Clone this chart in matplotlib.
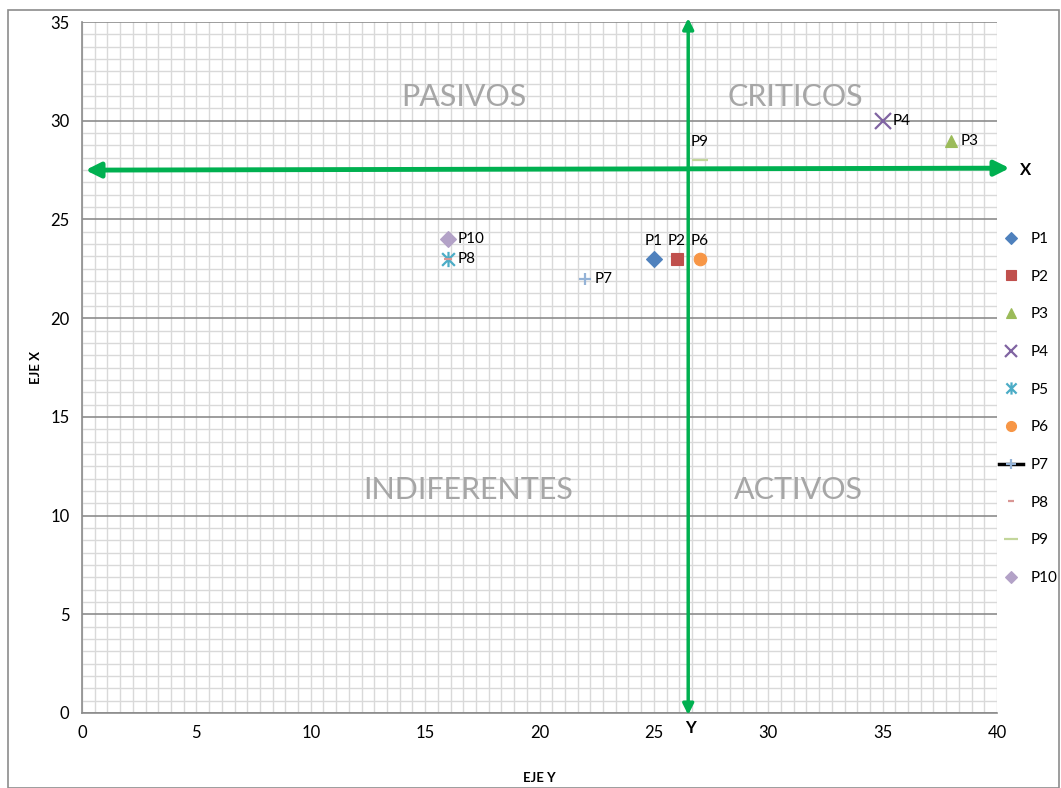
import matplotlib.pyplot as plt
from matplotlib.ticker import MultipleLocator
from matplotlib.patches import Rectangle
from matplotlib.path import Path

plt.rcParams['font.family'] = ['Lato', 'DejaVu Sans']

# puntos: eje Y (x) y eje X (y)
names = ['P1', 'P2', 'P3', 'P4', 'P5', 'P6', 'P7', 'P8', 'P9', 'P10']
eje_y = [25, 26, 38, 35, 16, 27, 22, 16, 27, 16]
eje_x = [23, 23, 29, 30, 23, 23, 22, 23, 28, 24]
label_pos = ['top', 'top', 'right', 'right', 'none', 'top', 'right', 'right', 'top', 'right']

# marcador estrella tipo Excel: X con linea vertical
star = Path([(-1, -1), (1, 1), (-1, 1), (1, -1), (0, -1.2), (0, 1.2)],
            [Path.MOVETO, Path.LINETO, Path.MOVETO, Path.LINETO, Path.MOVETO, Path.LINETO])

colors = ['#4f81bd', '#c0504d', '#9bbb59', '#8064a2', '#4bacc6',
          '#f79646', '#95b3d7', '#d99694', '#c3d69b', '#b3a2c7']
markers = ['D', 's', '^', 'x', star, 'o', '+', '_', '_', 'D']
sizes = [8, 9, 9, 11, 11, 9, 9, 6, 12, 8]

quadrants = [('PASIVOS', 16.7, 31.2), ('CRITICOS', 31.2, 31.2),
             ('INDIFERENTES', 16.9, 11.3), ('ACTIVOS', 31.3, 11.3)]
cruce_x = 26.5   # posicion del eje vertical
cruce_y = 27.5   # posicion del eje horizontal

fig = plt.figure(figsize=(10.61, 7.88), dpi=100)
ax = fig.add_axes([0.0773, 0.0952, 0.8624, 0.8768])

for i in range(len(names)):
    ls = '-' if names[i] == 'P7' else 'none'
    thin = names[i] in ['P4', 'P5', 'P7', 'P8', 'P9']
    ax.plot([eje_y[i]], [eje_x[i]], linestyle=ls, color='black', lw=2.5,
            marker=markers[i], markersize=sizes[i], markerfacecolor=colors[i],
            markeredgecolor=colors[i], markeredgewidth=1.6 if thin else 0.8,
            label=names[i], zorder=5)
    if label_pos[i] == 'top':
        ax.annotate(names[i], (eje_y[i], eje_x[i]), xytext=(0, 8),
                    textcoords='offset points', ha='center', va='bottom', fontsize=11)
    elif label_pos[i] == 'right':
        ax.annotate(names[i], (eje_y[i], eje_x[i]), xytext=(7, 0),
                    textcoords='offset points', ha='left', va='center', fontsize=11)

for txt, qx, qy in quadrants:
    ax.text(qx, qy, txt, color='#a6a6a6', fontsize=22, ha='center', va='center')

green = '#00b050'
ax.annotate('', xy=(0.15, cruce_y), xytext=(40.55, cruce_y + 0.1),
            arrowprops=dict(arrowstyle='<|-|>', color=green, lw=3.5,
                            mutation_scale=22, shrinkA=0, shrinkB=0),
            annotation_clip=False, zorder=4)
ax.annotate('', xy=(cruce_x, -0.1), xytext=(cruce_x, 35.2),
            arrowprops=dict(arrowstyle='<|-|>', color=green, lw=2.5,
                            mutation_scale=16, shrinkA=0, shrinkB=0),
            annotation_clip=False, zorder=4)
ax.text(41.0, cruce_y, 'X', fontsize=12, fontweight='bold', ha='left', va='center')
ax.text(cruce_x + 0.1, -0.35, 'Y', fontsize=12, fontweight='bold', ha='center', va='top')

ax.set_xlim(0, 40)
ax.set_ylim(0, 35)
ax.xaxis.set_major_locator(MultipleLocator(5))
ax.yaxis.set_major_locator(MultipleLocator(5))
ax.xaxis.set_minor_locator(MultipleLocator(5 / 9))
ax.yaxis.set_minor_locator(MultipleLocator(0.625))
ax.grid(which='minor', color='#d9d9d9', lw=1.0)
ax.grid(which='major', axis='x', color='#d9d9d9', lw=1.0)
ax.grid(which='major', axis='y', color='#8c8c8c', lw=1.2)
ax.set_axisbelow(True)
ax.tick_params(which='both', length=0, labelsize=12, pad=9)
for s in ['top', 'right']:
    ax.spines[s].set_visible(False)
for s in ['left', 'bottom']:
    ax.spines[s].set_color('#8c8c8c')
    ax.spines[s].set_linewidth(1.2)

ax.set_xlabel('EJE Y', fontsize=9.5, fontweight='bold', labelpad=22)
ax.set_ylabel('EJE X', fontsize=9.5, fontweight='bold', labelpad=6)

leg = ax.legend(loc='upper left', bbox_to_anchor=(0.995, 0.705), frameon=False,
                fontsize=11, labelspacing=1.55, handlelength=1.6, handletextpad=0.5,
                borderaxespad=0, markerscale=0.8)

fig.patches.append(Rectangle((0.008, 0.0), 0.99, 0.987, transform=fig.transFigure,
                             fill=False, edgecolor='#8c8c8c', lw=1.2))

fig.savefig('out.png', dpi=100)
